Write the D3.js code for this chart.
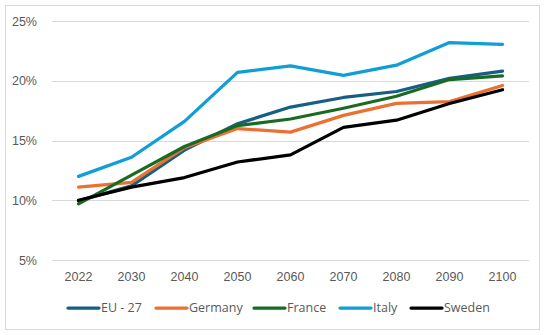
<!DOCTYPE html>
<html>
<head>
<meta charset="utf-8">
<script src="https://cdn.jsdelivr.net/npm/d3@7"></script>
<style>
  html, body { margin: 0; padding: 0; background: #fff; }
  #plot { width: 550px; height: 335px; }
</style>
</head>
<body>
<div id="plot"></div>
<script>
// Chart data
const years = ['2022', '2030', '2040', '2050', '2060', '2070', '2080', '2090', '2100'];
const yTicks = [5, 10, 15, 20, 25];
const seriesNames = ['EU - 27', 'Germany', 'France', 'Italy', 'Sweden'];
const seriesColors = ['#156082', '#E97132', '#196B24', '#0F9ED5', '#000000'];

const eu27 = [9.95, 11.2, 14.2, 16.4, 17.8, 18.6, 19.1, 20.2, 20.8];
const germany = [11.1, 11.5, 14.4, 16.0, 15.7, 17.1, 18.1, 18.25, 19.6];
const france = [9.7, 12.1, 14.5, 16.25, 16.8, 17.7, 18.7, 20.1, 20.4];
const italy = [12.0, 13.6, 16.6, 20.7, 21.25, 20.45, 21.3, 23.2, 23.05];
const sweden = [10.0, 11.1, 11.9, 13.2, 13.8, 16.1, 16.7, 18.1, 19.25];

const seriesValues = [eu27, germany, france, italy, sweden];

function drawChart() {
  const W = 550, H = 335;
  const svg = d3.select('#plot').append('svg')
    .attr('width', W)
    .attr('height', H)
    .style('font-family', '"Open Sans", "Noto Sans", sans-serif');

  // outer chart-area border
  svg.append('rect')
    .attr('x', 5.5).attr('y', 5.5)
    .attr('width', 534).attr('height', 324)
    .attr('fill', '#fff')
    .attr('stroke', '#d9d9d9')
    .attr('stroke-width', 1);

  const margin = { left: 52, right: 21, top: 21, bottom: 75 };
  const width = W - margin.left - margin.right;
  const yTop = 21, yBottom = 260;

  const x = d3.scaleBand().domain(years).range([margin.left, margin.left + width]);
  const y = d3.scaleLinear().domain([5, 25]).range([yBottom, yTop]);

  // gridlines
  svg.append('g').attr('class', 'grid')
    .selectAll('line')
    .data(yTicks)
    .join('line')
    .attr('x1', margin.left).attr('x2', margin.left + width)
    .attr('y1', d => Math.round(y(d)) + 0.5)
    .attr('y2', d => Math.round(y(d)) + 0.5)
    .attr('stroke', '#d9d9d9')
    .attr('stroke-width', 1);

  // y axis labels
  const yAxis = d3.axisLeft(y).tickValues(yTicks).tickSize(0).tickPadding(0).tickFormat(d => d + '%');
  const yAxisG = svg.append('g').attr('transform', `translate(37,0)`).call(yAxis);
  yAxisG.select('.domain').remove();
  yAxisG.selectAll('text').attr('fill', '#595959').style('font-size', '12.5px');

  // x axis labels
  const xAxis = d3.axisBottom(x).tickSize(0).tickPadding(0);
  const xAxisG = svg.append('g').attr('transform', `translate(0,272)`).call(xAxis);
  xAxisG.select('.domain').remove();
  xAxisG.selectAll('text').attr('fill', '#595959').style('font-size', '12.5px');

  const line = d3.line()
    .x((d, i) => x(years[i]) + x.bandwidth() / 2)
    .y(d => y(d));

  seriesValues.forEach((vals, i) => {
    svg.append('path')
      .datum(vals)
      .attr('fill', 'none')
      .attr('stroke', seriesColors[i])
      .attr('stroke-width', 3.25)
      .attr('stroke-linejoin', 'round')
      .attr('stroke-linecap', 'round')
      .attr('d', line);
  });

  // legend
  const legendX = [68, 156, 254, 340, 411];
  const legend = svg.append('g').attr('class', 'legend');
  seriesNames.forEach((name, i) => {
    legend.append('line')
      .attr('x1', legendX[i]).attr('x2', legendX[i] + 31)
      .attr('y1', 308).attr('y2', 308)
      .attr('stroke', seriesColors[i])
      .attr('stroke-width', 3.25)
      .attr('stroke-linecap', 'round');
    legend.append('text')
      .attr('x', legendX[i] + 33)
      .attr('y', 308)
      .attr('dy', '0.35em')
      .attr('fill', '#595959')
      .style('font-size', '12.5px')
      .text(name);
  });
}

drawChart();
</script>
</body>
</html>
